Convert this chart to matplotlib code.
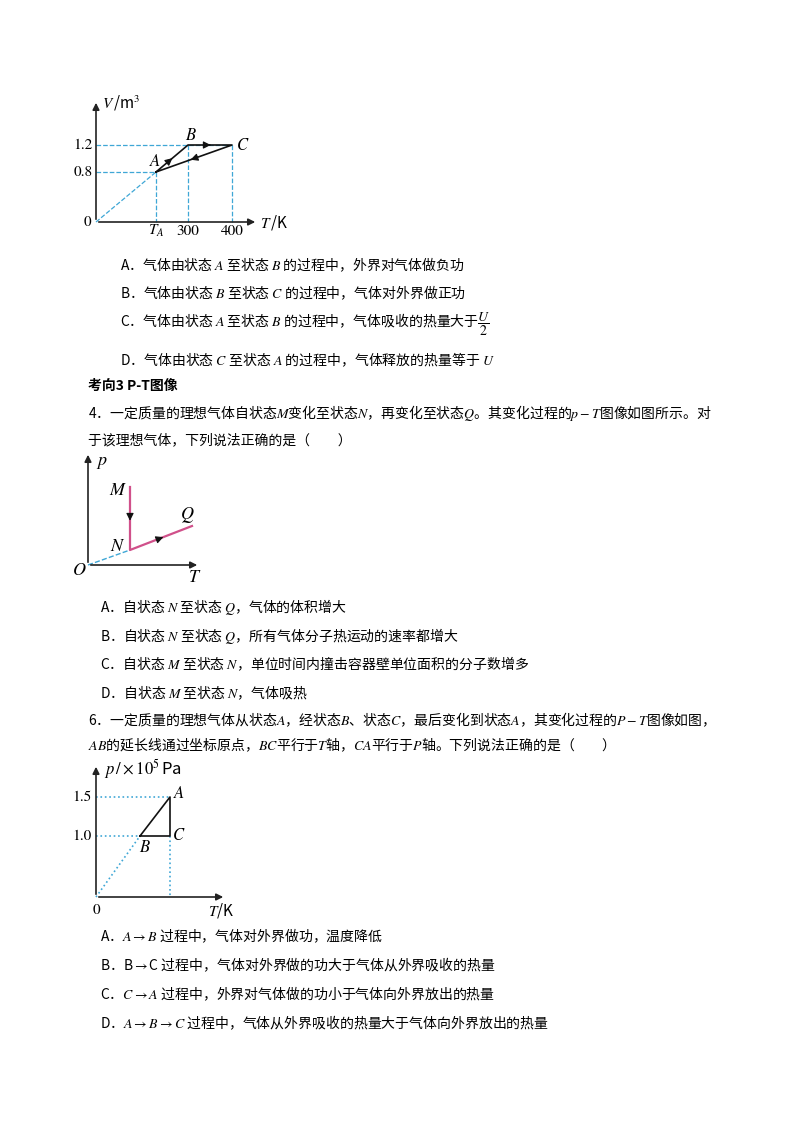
import matplotlib
matplotlib.use("Agg")
import matplotlib.pyplot as plt

plt.rcParams['font.family'] = ['Noto Sans CJK SC', 'DejaVu Sans']
plt.rcParams['mathtext.fontset'] = 'stix'

# ---------------- data ----------------
# diagram 1 (V-T): states and tick labels
d1_states = ['A', 'B', 'C']
d1_T_labels = ['$T_A$', '300', '400']
d1_V_labels = ['0.8', '1.2']
d1_T_pos = [156, 188, 232]     # drawing positions (not to scale in source)
d1_V_pos = [172, 145]
d1_path = [(156, 172), (188, 145), (232, 145), (156, 172)]
# diagram 2 (p-T)
d2_path = [(130, 487), (130, 550), (192, 526)]
d2_states = ['M', 'N', 'Q']
# diagram 3 (p-T, x10^5 Pa)
d3_p_labels = ['1.0', '1.5']
d3_p_pos = [836, 797]
d3_path = [(140, 836), (170, 797), (170, 836), (140, 836)]

W, H = 800, 1132
fig = plt.figure(figsize=(W/100, H/100), dpi=100)
ax = fig.add_axes([0, 0, 1, 1])
ax.set_xlim(0, W); ax.set_ylim(H, 0); ax.axis('off')

blue = '#3fa7d6'
pink = '#d0508a'
FS = 10

def axis_arrow(x0, y0, x1, y1):
    ax.annotate('', xy=(x1, y1), xytext=(x0, y0),
                arrowprops=dict(arrowstyle='-|>', color='#222', lw=1.2, mutation_scale=10))

def mid_arrow(p, q, color):
    mx, my = (p[0]+q[0])/2, (p[1]+q[1])/2
    dx, dy = (q[0]-p[0])*0.08, (q[1]-p[1])*0.08
    ax.annotate('', xy=(mx+dx, my+dy), xytext=(mx-dx, my-dy),
                arrowprops=dict(arrowstyle='-|>', color=color, lw=0.8, mutation_scale=11))

# ---------- diagram 1 ----------
axis_arrow(96, 222, 96, 100)
axis_arrow(96, 222, 258, 222)
ax.plot([96, 156], [222, 172], ls='--', color=blue, lw=0.9)
for tx, vy in [(156, 172), (188, 145), (232, 145)]:
    ax.plot([tx, tx], [vy, 222], ls='--', color=blue, lw=0.9)
ax.plot([96, 232], [145, 145], ls='--', color=blue, lw=0.9)
ax.plot([96, 156], [172, 172], ls='--', color=blue, lw=0.9)
xs, ys = zip(*d1_path)
ax.plot(xs, ys, color='#111', lw=1.2)
for i in range(3):
    mid_arrow(d1_path[i], d1_path[i+1], '#111')
ax.text(102, 103, '$V\\,$/m$^3$', fontsize=11, va='center')
for lab, y in zip(d1_V_labels, d1_V_pos):
    ax.text(93, y, lab, fontsize=11, ha='right', va='center', family='STIXGeneral')
ax.text(91, 222, '0', fontsize=11, ha='right', va='center', family='STIXGeneral')
for lab, x in zip(d1_T_labels, d1_T_pos):
    ax.text(x, 231, lab, fontsize=11, ha='center', va='center', family='STIXGeneral')
ax.text(260, 222, '$T\\,$/K', fontsize=11, va='center')
for lab, (x, y) in zip(d1_states, [(155, 162), (191, 135), (243, 145)]):
    ax.text(x, y, '$%s$' % lab, fontsize=12, ha='center', va='center')

# ---------- text block 1 ----------
opts1 = ['A．气体由状态 $A$ 至状态 $B$ 的过程中，外界对气体做负功',
         'B．气体由状态 $B$ 至状态 $C$ 的过程中，气体对外界做正功',
         'C．气体由状态 $A$ 至状态 $B$ 的过程中，气体吸收的热量大于$\\dfrac{U}{2}$',
         'D．气体由状态 $C$ 至状态 $A$ 的过程中，气体释放的热量等于 $U$']
for t, y in zip(opts1, [265, 293, 324, 360]):
    ax.text(120, y, t, fontsize=FS, va='center')
ax.text(88, 386, '考向3 P-T图像', fontsize=FS, va='center', weight='bold')
ax.text(88, 413, '4．一定质量的理想气体自状态$M$变化至状态$N$，再变化至状态$Q$。其变化过程的$p-T$图像如图所示。对',
        fontsize=FS, va='center')
ax.text(88, 440, '于该理想气体，下列说法正确的是（　　）', fontsize=FS, va='center')

# ---------- diagram 2 ----------
axis_arrow(88, 565, 88, 452)
axis_arrow(88, 565, 200, 565)
ax.plot([88, 130], [565, 550], ls='--', color=blue, lw=1)
xs, ys = zip(*d2_path)
ax.plot(xs, ys, color=pink, lw=1.6)
mid_arrow(d2_path[0], d2_path[1], '#111')
mid_arrow(d2_path[1], d2_path[2], '#111')
ax.text(96, 462, '$p$', fontsize=13, va='center')
for lab, (x, y) in zip(d2_states, [(118, 490), (118, 546), (187, 515)]):
    ax.text(x, y, '$%s$' % lab, fontsize=13, ha='center', va='center')
ax.text(79, 570, '$O$', fontsize=13, ha='center', va='center')
ax.text(195, 577, '$T$', fontsize=13, ha='center', va='center')

opts2 = ['A．自状态 $N$ 至状态 $Q$，气体的体积增大',
         'B．自状态 $N$ 至状态 $Q$，所有气体分子热运动的速率都增大',
         'C．自状态 $M$ 至状态 $N$，单位时间内撞击容器壁单位面积的分子数增多',
         'D．自状态 $M$ 至状态 $N$，气体吸热']
for t, y in zip(opts2, [607, 636, 664, 693]):
    ax.text(100, y, t, fontsize=FS, va='center')
ax.text(88, 720, '6．一定质量的理想气体从状态$A$，经状态$B$、状态$C$，最后变化到状态$A$，其变化过程的$P-T$图像如图，',
        fontsize=FS, va='center')
ax.text(88, 745, '$AB$的延长线通过坐标原点，$BC$平行于$T$轴，$CA$平行于$P$轴。下列说法正确的是（　　）',
        fontsize=FS, va='center')

# ---------- diagram 3 ----------
axis_arrow(96, 897, 96, 764)
axis_arrow(96, 897, 226, 897)
ax.plot([96, 140], [897, 836], ls=':', color=blue, lw=1.2)
ax.plot([96, 170], [797, 797], ls=':', color=blue, lw=1.2)
ax.plot([96, 140], [836, 836], ls=':', color=blue, lw=1.2)
ax.plot([170, 170], [836, 897], ls=':', color=blue, lw=1.2)
xs, ys = zip(*d3_path)
ax.plot(xs, ys, color='#111', lw=1.2)
ax.text(104, 769, '$p\\,/\\times10^5\\,$Pa', fontsize=12, va='center')
for lab, y in zip(d3_p_labels, d3_p_pos):
    ax.text(92, y, lab, fontsize=11, ha='right', va='center', family='STIXGeneral')
ax.text(96, 910, '0', fontsize=11, ha='center', va='center', family='STIXGeneral')
ax.text(208, 910, '$T$/K', fontsize=11, ha='left', va='center')
for lab, (x, y) in zip(['A', 'B', 'C'], [(179, 794), (145, 848), (179, 836)]):
    ax.text(x, y, '$%s$' % lab, fontsize=12, ha='center', va='center')

opts3 = ['A．$A\\rightarrow B$ 过程中，气体对外界做功，温度降低',
         'B．B$\\rightarrow$C 过程中，气体对外界做的功大于气体从外界吸收的热量',
         'C．$C\\rightarrow A$ 过程中，外界对气体做的功小于气体向外界放出的热量',
         'D．$A\\rightarrow B\\rightarrow C$ 过程中，气体从外界吸收的热量大于气体向外界放出的热量']
for t, y in zip(opts3, [936, 965, 994, 1023]):
    ax.text(100, y, t, fontsize=FS, va='center')

fig.savefig('out.png', dpi=100)
